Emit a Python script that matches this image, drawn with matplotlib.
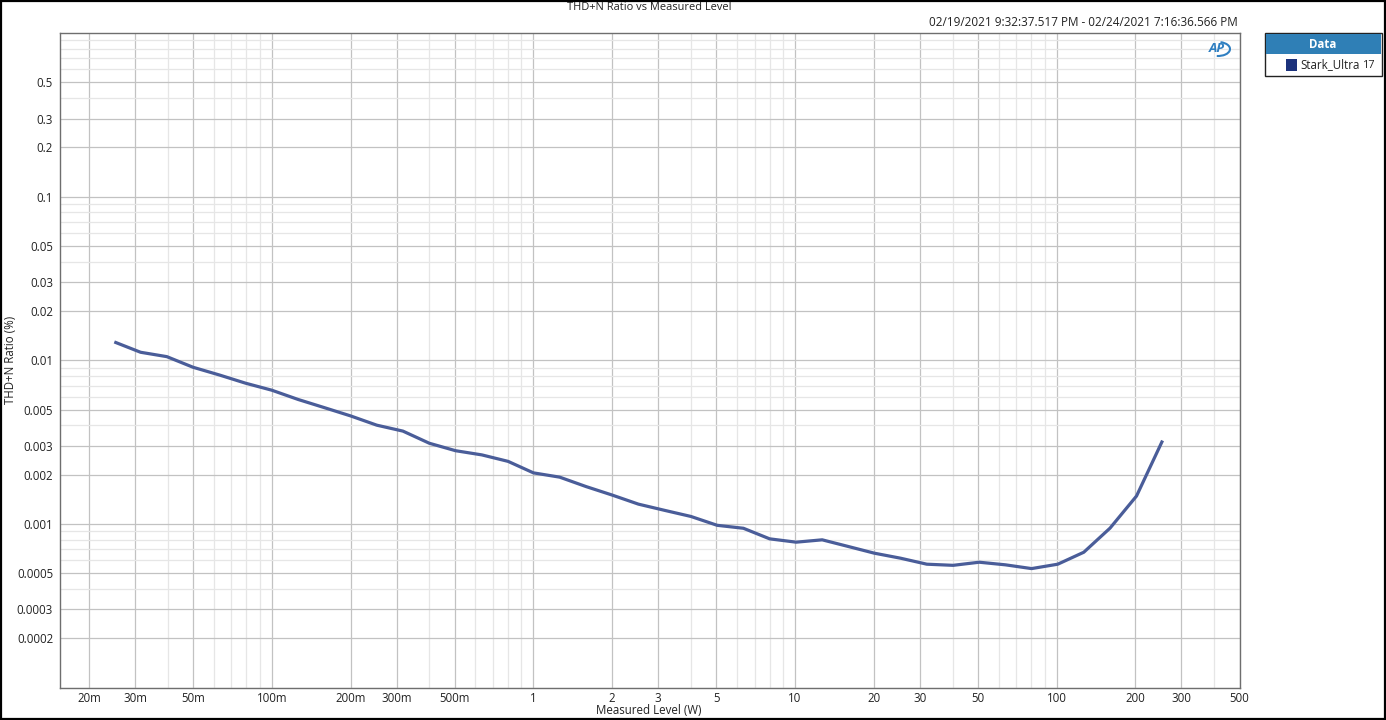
import matplotlib
matplotlib.use("Agg")
import matplotlib.pyplot as plt
from matplotlib.patches import Rectangle, Arc
from matplotlib.ticker import FixedLocator, NullFormatter

plt.rcParams['font.family'] = ['Open Sans', 'DejaVu Sans']

# ---- data ----
level_w = [0.025, 0.0315, 0.0397, 0.05, 0.063, 0.0794, 0.1, 0.126, 0.159, 0.2,
           0.252, 0.317, 0.4, 0.504, 0.635, 0.8, 1.0, 1.26, 1.59, 2.0,
           2.52, 3.17, 4.0, 5.04, 6.35, 8.0, 10.1, 12.7, 16.0, 20.1,
           25.3, 31.9, 40.2, 50.6, 63.7, 80.2, 101, 127, 160, 202, 254]
thdn_pct = [0.01294, 0.01119, 0.01052, 0.00906, 0.00813, 0.00724, 0.00656, 0.00576, 0.00513, 0.00457,
            0.00401, 0.00369, 0.00311, 0.00280, 0.00264, 0.00241, 0.00205, 0.00193, 0.00169, 0.00150,
            0.00132, 0.00121, 0.00111, 0.00098, 0.00094, 0.00081, 0.000773, 0.000799, 0.000727, 0.000662,
            0.000617, 0.000567, 0.000558, 0.000583, 0.000562, 0.000533, 0.000567, 0.000671, 0.000942, 0.00148,
            0.00323]

x_ticks = [0.02, 0.03, 0.05, 0.1, 0.2, 0.3, 0.5, 1, 2, 3, 5, 10, 20, 30, 50, 100, 200, 300, 500]
x_labels = ['20m', '30m', '50m', '100m', '200m', '300m', '500m', '1', '2', '3', '5',
            '10', '20', '30', '50', '100', '200', '300', '500']
y_ticks = [0.5, 0.3, 0.2, 0.1, 0.05, 0.03, 0.02, 0.01, 0.005, 0.003, 0.002, 0.001,
           0.0005, 0.0003, 0.0002]
y_labels = ['0.5', '0.3', '0.2', '0.1', '0.05', '0.03', '0.02', '0.01', '0.005', '0.003',
            '0.002', '0.001', '0.0005', '0.0003', '0.0002']

series_name = 'Stark_Ultra'
series_id = '17'
title = 'THD+N Ratio vs Measured Level'
date_text = '02/19/2021 9:32:37.517 PM - 02/24/2021 7:16:36.566 PM'

W, H = 1386, 720
fig = plt.figure(figsize=(W / 100, H / 100), dpi=100)
fig.patch.set_facecolor('white')

L, R, T, B = 60, 1239.5, 33, 687.5
ax = fig.add_axes([L / W, 1 - B / H, (R - L) / W, (B - T) / H])
ax.set_xscale('log')
ax.set_yscale('log')
ax.set_xlim(0.0155, 500)
ax.set_ylim(0.0001, 1)


def minors(lo_exp, hi_exp, majors):
    out = []
    for e in range(lo_exp, hi_exp + 1):
        for m in range(1, 10):
            v = m * 10.0 ** e
            if not any(abs(v - t) / t < 1e-6 for t in majors):
                out.append(v)
    return out


ax.xaxis.set_major_locator(FixedLocator(x_ticks))
ax.set_xticklabels(x_labels)
ax.xaxis.set_minor_locator(FixedLocator(minors(-2, 2, x_ticks)))
ax.xaxis.set_minor_formatter(NullFormatter())
ax.yaxis.set_major_locator(FixedLocator(y_ticks))
ax.set_yticklabels(y_labels)
ax.yaxis.set_minor_locator(FixedLocator(minors(-4, -1, y_ticks)))
ax.yaxis.set_minor_formatter(NullFormatter())

ax.grid(True, which='major', color='#c2c2c2', linewidth=0.9)
ax.grid(True, which='minor', color='#e6e6e6', linewidth=0.9)
ax.set_axisbelow(True)
ax.tick_params(which='both', length=0, labelsize=8.3, colors='#222222')
ax.tick_params(axis='x', pad=3)
ax.tick_params(axis='y', pad=5)
for s in ax.spines.values():
    s.set_color('#6e6e6e')
    s.set_linewidth(1.0)

ax.plot(level_w, thdn_pct, color='#4a5d99', linewidth=2.3, solid_joinstyle='round',
        solid_capstyle='butt')


def fx(px):
    return px / W


def fy(py):
    return 1 - py / H


fig.text(fx(649), fy(711), 'Measured Level (W)', ha='center', va='center',
         fontsize=8.3, color='#222222')
fig.text(fx(11), fy(360), 'THD+N Ratio (%)', rotation=90, ha='center', va='center',
         fontsize=8.3, color='#222222')
fig.text(fx(649), fy(7), title, ha='center', va='center', fontsize=7.9, color='#222222')
fig.text(fx(1238), fy(22), date_text, ha='right', va='center', fontsize=8.5, color='#222222')

# AP logo
logo_ax = fig.add_axes([fx(1205), fy(60), 26 / W, 22 / H])
logo_ax.set_xlim(0, 26)
logo_ax.set_ylim(0, 22)
logo_ax.axis('off')
logo_ax.text(12, 11.5, 'AP', ha='center', va='center', fontsize=9.5, color='#2f7fc1',
             fontweight='bold', style='italic')
logo_ax.add_patch(Arc((13, 11), 24, 14, theta1=-100, theta2=70, color='#2f7fc1', linewidth=1.5))

# legend
fig.patches.append(Rectangle((fx(1265), fy(76)), 117 / W, 43 / H, transform=fig.transFigure,
                             facecolor='white', edgecolor='#222222', linewidth=1.0))
fig.patches.append(Rectangle((fx(1266), fy(54)), 115 / W, 20 / H, transform=fig.transFigure,
                             facecolor='#2f7fb6', edgecolor='none'))
fig.text(fx(1323), fy(44), 'Data', ha='center', va='center', fontsize=8.3, color='white',
         fontweight='bold')
fig.patches.append(Rectangle((fx(1286), fy(71)), 11 / W, 12 / H, transform=fig.transFigure,
                             facecolor='#1c327c', edgecolor='none'))
fig.text(fx(1300), fy(65), series_name, ha='left', va='center', fontsize=8.3, color='#222222')
fig.text(fx(1363), fy(66), series_id, ha='left', va='center', fontsize=7.8, color='#222222')

# outer border
fig.patches.append(Rectangle((0.0005, 0.001), 0.999, 0.998, transform=fig.transFigure,
                             facecolor='none', edgecolor='black', linewidth=1.6))

fig.savefig('out.png', dpi=100)
